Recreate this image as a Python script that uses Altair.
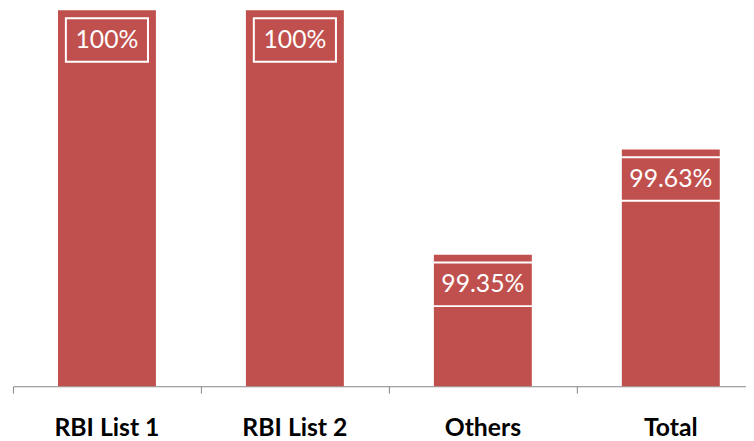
import altair as alt
import pandas as pd

categories = ["RBI List 1", "RBI List 2", "Others", "Total"]
values = [100.0, 100.0, 99.35, 99.63]
labels = ["100%", "100%", "99.35%", "99.63%"]
box_widths = [83, 83, 112, 112]

df = pd.DataFrame({
    "cat": categories,
    "pos": [i + 0.5 for i in range(len(categories))],
    "value": values,
    "label": labels,
    "boxw": box_widths,
})

W = 741
xscale = alt.Scale(domain=[0, 3.9], nice=False, zero=False, padding=0)
x = alt.X(
    "pos:Q",
    title=None,
    scale=xscale,
    axis=alt.Axis(
        values=list(range(len(categories))),
        labels=False,
        domainColor="#868686",
        domainWidth=1,
        tickColor="#868686",
        tickSize=7,
        tickWidth=1,
        grid=False,
    ),
)
yscale = alt.Scale(domain=[99, 100], zero=False, nice=False, padding=0)

base = alt.Chart(df)

bars = base.mark_bar(color="#C0504D", width=99).encode(
    x=x,
    y=alt.Y("value:Q", scale=yscale, axis=None),
    y2=alt.datum(99),
)

boxes = base.mark_bar(
    filled=False, stroke="white", strokeWidth=2, yOffset=8, y2Offset=52
).encode(
    x=x,
    y=alt.Y("value:Q", scale=yscale, axis=None),
    y2=alt.Y2("value:Q"),
    size=alt.Size("boxw:Q", scale=None, legend=None),
)

texts = base.mark_text(
    color="white", font="Lato", fontSize=25, baseline="middle", align="center", dy=30
).encode(
    x=x,
    y=alt.Y("value:Q", scale=yscale, axis=None),
    text="label:N",
)

cat_labels = base.mark_text(
    color="#000000", font="Lato", fontWeight="bold", fontSize=25,
    baseline="alphabetic", align="center",
).encode(
    x=x,
    y=alt.value(430),
    text="cat:N",
)

chart = (
    alt.layer(bars, boxes, texts, cat_labels)
    .properties(
        width=W,
        height=380,
        autosize=alt.AutoSizeParams(type="none"),
        padding={"left": 5, "top": 0, "right": 0, "bottom": 53},
    )
    .configure_view(stroke=None)
)

chart.save("out.html", embed_options={"renderer": "svg", "actions": False})
